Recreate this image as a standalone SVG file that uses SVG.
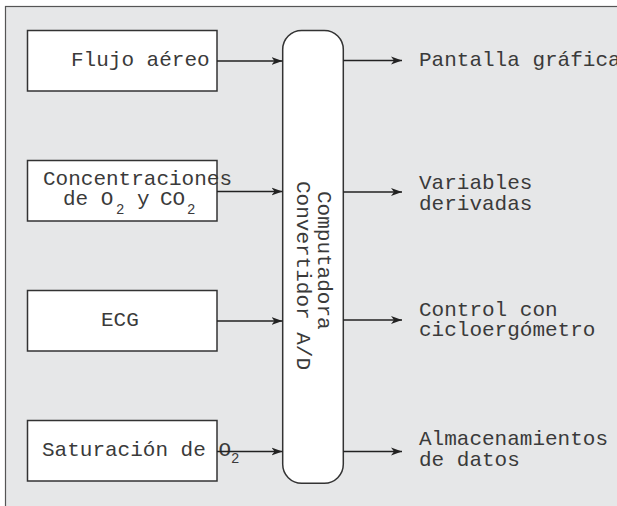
<svg xmlns="http://www.w3.org/2000/svg" width="617" height="506" viewBox="0 0 617 506">
<defs>
<marker id="ah" markerWidth="12" markerHeight="10" refX="11" refY="5" orient="auto" markerUnits="userSpaceOnUse">
<path d="M0,1 L11,5 L0,9 L3,5 Z" fill="#222"/>
</marker>
<style>
.bg{fill:#e6e7e8;stroke:#555;stroke-width:1.2}
.box{fill:#fff;stroke:#333;stroke-width:1.5}
.t{font-family:"Liberation Mono","Courier New",monospace;font-size:21px;fill:#3a3a3a}
.s{font-size:14px}
.c line{stroke:#222;stroke-width:1.5;marker-end:url(#ah)}
</style>
</defs>
<rect class="bg" x="5.5" y="6.5" width="640" height="540"/>
<g id="n-flujo">
<rect class="box" x="27.5" y="30.5" width="189.5" height="60.5"/>
<text class="t" x="71" y="66">Flujo aéreo</text>
</g>
<g id="n-conc">
<rect class="box" x="27.5" y="160.5" width="189.5" height="60.5"/>
<text class="t" x="43" y="185">Concentraciones</text>
<text class="t" x="63" y="205">de O</text>
<text class="t s" x="116" y="214">2</text>
<text class="t" x="137" y="205">y</text>
<text class="t" x="160" y="205">CO</text>
<text class="t s" x="187" y="214">2</text>
</g>
<g id="n-ecg">
<rect class="box" x="27.5" y="290.5" width="189.5" height="60.5"/>
<text class="t" x="101" y="326">ECG</text>
</g>
<g id="n-sat">
<rect class="box" x="27.5" y="420.5" width="189.5" height="60.5"/>
<text class="t" x="42" y="456">Saturación de O</text>
<text class="t s" x="231" y="463">2</text>
</g>
<g id="n-comp">
<rect class="box" x="282.7" y="30.5" width="60.6" height="452.8" rx="19" ry="19"/>
<text class="t" transform="translate(318,191) rotate(90)">Computadora</text>
<text class="t" transform="translate(297,181) rotate(90)">Convertidor A/D</text>
</g>
<g id="o-pantalla"><text class="t" x="419" y="66">Pantalla gráfica</text></g>
<g id="o-var"><text class="t" x="419" y="189">Variables</text><text class="t" x="419" y="210">derivadas</text></g>
<g id="o-ctrl"><text class="t" x="419" y="316">Control con</text><text class="t" x="419" y="336">cicloergómetro</text></g>
<g id="o-alm"><text class="t" x="419" y="445">Almacenamientos</text><text class="t" x="419" y="466">de datos</text></g>
<g class="c" id="connectors">
<line x1="217" y1="61" x2="282.5" y2="61"/>
<line x1="217" y1="191.5" x2="282.5" y2="191.5"/>
<line x1="217" y1="321" x2="282.5" y2="321"/>
<line x1="217" y1="451.5" x2="282.5" y2="451.5"/>
<line x1="343.3" y1="60.5" x2="402" y2="60.5"/>
<line x1="343.3" y1="192" x2="402" y2="192"/>
<line x1="343.3" y1="320" x2="402" y2="320"/>
<line x1="343.3" y1="451.5" x2="402" y2="451.5"/>
</g>
</svg>
